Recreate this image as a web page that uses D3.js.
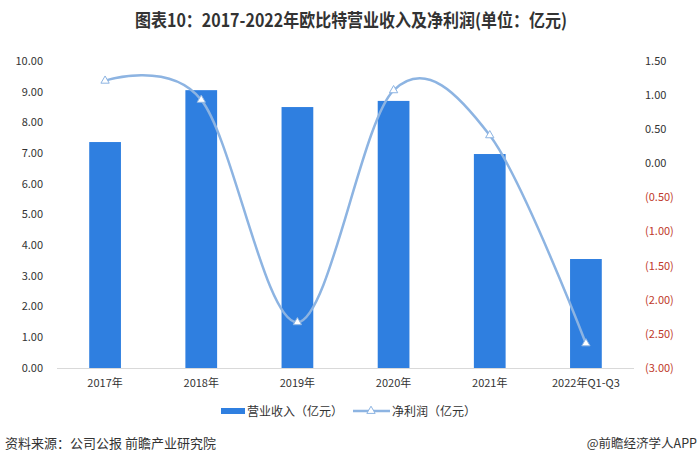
<!DOCTYPE html>
<html>
<head>
<meta charset="utf-8">
<script src="https://cdn.jsdelivr.net/npm/d3@7"></script>
<style>
  body { margin: 0; background: #fff; }
  text { font-family: "Noto Sans CJK SC", "Noto Sans", sans-serif; }
</style>
</head>
<body>
<div id="chart"></div>
<script>
// data
var years = ["2017年", "2018年", "2019年", "2020年", "2021年", "2022年Q1-Q3"];
var revenue = [7.36, 9.05, 8.50, 8.70, 6.97, 3.55];
var profit = [1.21, 0.93, -2.33, 1.07, 0.41, -2.64];
var leftTicks = [0, 1, 2, 3, 4, 5, 6, 7, 8, 9, 10];
var rightTicks = [1.5, 1, 0.5, 0, -0.5, -1, -1.5, -2, -2.5, -3];

var W = 700, H = 470;
var plot = {left: 57, right: 634, top: 61, bottom: 368};

var svg = d3.select("#chart").append("svg")
    .attr("width", W)
    .attr("height", H);

svg.append("rect").attr("width", W).attr("height", H).attr("fill", "#fff");

// title
svg.append("text")
    .attr("x", 135).attr("y", 27)
    .attr("textLength", 432)
    .attr("lengthAdjust", "spacingAndGlyphs")
    .style("font-size", "18px")
    .style("font-weight", "bold")
    .attr("fill", "#333")
    .text("图表10：2017-2022年欧比特营业收入及净利润(单位：亿元)");

var x = d3.scaleBand().domain(years).range([plot.left, plot.right]).paddingInner(0.67).paddingOuter(0.335);
var xc = d3.scaleBand().domain(years).range([plot.left, plot.right]);
var yL = d3.scaleLinear().domain([0, 10]).range([plot.bottom, plot.top]);
var yR = d3.scaleLinear().domain([-3, 1.5]).range([plot.bottom, plot.top]);

// left axis labels
svg.append("g").selectAll("text")
    .data(leftTicks)
  .enter().append("text")
    .attr("x", 43)
    .attr("y", function(d) { return yL(d); })
    .attr("dy", "0.35em")
    .attr("text-anchor", "end")
    .style("font-size", "11px")
    .attr("fill", "#333")
    .text(function(d) { return d.toFixed(2); });

// right axis labels
svg.append("g").selectAll("text")
    .data(rightTicks)
  .enter().append("text")
    .attr("x", 645)
    .attr("y", function(d) { return yR(d); })
    .attr("dy", "0.35em")
    .attr("text-anchor", "start")
    .style("font-size", "11px")
    .attr("fill", function(d) { return d < 0 ? "#c0392b" : "#333"; })
    .text(function(d) { return d < 0 ? "(" + (-d).toFixed(2) + ")" : d.toFixed(2); });

// bars
svg.append("g").selectAll("rect")
    .data(revenue)
  .enter().append("rect")
    .attr("x", function(d, i) { return x(years[i]); })
    .attr("width", x.bandwidth())
    .attr("y", function(d) { return yL(d); })
    .attr("height", function(d) { return yL(0) - yL(d); })
    .attr("fill", "#2f7fe0");

// baseline
svg.append("line")
    .attr("x1", plot.left).attr("x2", plot.right)
    .attr("y1", plot.bottom + 0.5).attr("y2", plot.bottom + 0.5)
    .attr("stroke", "#d9d9d9");

// x labels
svg.append("g").selectAll("text")
    .data(years)
  .enter().append("text")
    .attr("x", function(d) { return xc(d) + xc.bandwidth() / 2; })
    .attr("y", 387)
    .attr("text-anchor", "middle")
    .style("font-size", "11px")
    .attr("fill", "#333")
    .text(function(d) { return d; });

// profit line
var line = d3.line()
    .x(function(d, i) { return xc(years[i]) + xc.bandwidth() / 2; })
    .y(function(d) { return yR(d); })
    .curve(d3.curveCatmullRom.alpha(0));

svg.append("path")
    .datum(profit)
    .attr("d", line)
    .attr("fill", "none")
    .attr("stroke", "#8db4e2")
    .attr("stroke-width", 2.5);

var tri = d3.symbol().type(d3.symbolTriangle).size(30);
svg.append("g").selectAll("path")
    .data(profit)
  .enter().append("path")
    .attr("d", tri)
    .attr("transform", function(d, i) { return "translate(" + (xc(years[i]) + xc.bandwidth() / 2) + "," + yR(d) + ")"; })
    .attr("fill", "#fff")
    .attr("stroke", "#8db4e2")
    .attr("stroke-width", 1);

// legend
var lg = svg.append("g");
lg.append("rect").attr("x", 221).attr("y", 408).attr("width", 24).attr("height", 6).attr("fill", "#2f7fe0");
lg.append("text").attr("x", 247).attr("y", 416).style("font-size", "12px").attr("fill", "#333").text("营业收入（亿元）");
lg.append("line").attr("x1", 353).attr("x2", 390).attr("y1", 411).attr("y2", 411)
    .attr("stroke", "#8db4e2").attr("stroke-width", 2.5);
lg.append("path").attr("d", tri).attr("transform", "translate(371,411)")
    .attr("fill", "#fff").attr("stroke", "#8db4e2");
lg.append("text").attr("x", 392).attr("y", 416).style("font-size", "12px").attr("fill", "#333").text("净利润（亿元）");

// source
svg.append("text").attr("x", 5).attr("y", 448).style("font-size", "13px").attr("fill", "#333")
    .text("资料来源：公司公报 前瞻产业研究院");
svg.append("text").attr("x", 697).attr("y", 448).attr("text-anchor", "end").style("font-size", "12.5px").attr("fill", "#333")
    .text("@前瞻经济学人APP");
</script>
</body>
</html>
